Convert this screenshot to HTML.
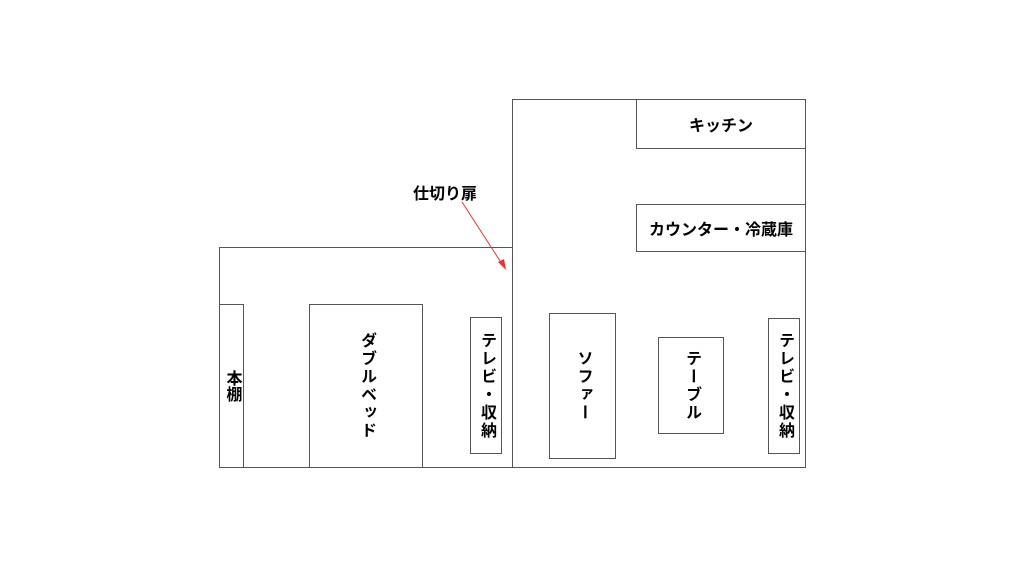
<!DOCTYPE html>
<html><head><meta charset="utf-8"><style>
body{margin:0;width:1024px;height:576px;background:#fff;position:relative;overflow:hidden;font-family:"Liberation Sans","Noto Sans CJK JP",sans-serif;font-weight:bold;font-size:16px;color:#000}
.b{position:absolute;border:1px solid #555;box-sizing:border-box;background:#fff;display:flex;align-items:center;justify-content:center}
.v{writing-mode:vertical-rl;text-orientation:upright;letter-spacing:2px}
</style></head><body>
<div class="b" style="left:219px;top:247px;width:294px;height:221px"></div>
<div class="b" style="left:512px;top:99px;width:294px;height:369px"></div>
<div class="b" style="left:219px;top:304px;width:25px;height:164px"><span class="v" style="letter-spacing:0">本棚</span></div>
<div class="b" style="left:309px;top:304px;width:114px;height:164px"><span class="v">ダブルベッド</span></div>
<div class="b" style="left:470px;top:317px;width:32px;height:137px"><span class="v">テレビ・収納</span></div>
<div class="b" style="left:549px;top:313px;width:67px;height:146px"><span class="v">ソファー</span></div>
<div class="b" style="left:658px;top:337px;width:66px;height:97px"><span class="v">テーブル</span></div>
<div class="b" style="left:768px;top:318px;width:32px;height:136px"><span class="v">テレビ・収納</span></div>
<div class="b" style="left:636px;top:99px;width:170px;height:50px">キッチン</div>
<div class="b" style="left:636px;top:204px;width:170px;height:48px">カウンター・冷蔵庫</div>
<div style="position:absolute;left:413px;top:180px">仕切り扉</div>
<svg style="position:absolute;left:0;top:0" width="1024" height="576"><line x1="462" y1="202" x2="502" y2="264" stroke="#e33" stroke-width="1"/><polygon points="506,270 498,262 504,259" fill="#e33"/></svg>
</body></html>
